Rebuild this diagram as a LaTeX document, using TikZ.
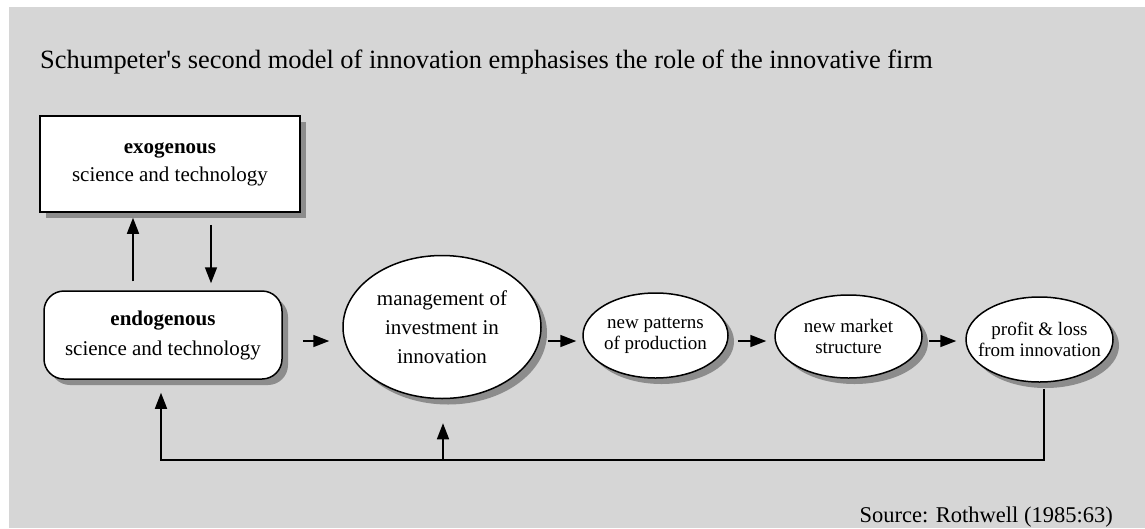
\documentclass[tikz,border=0pt]{standalone}
\usepackage{fontspec}
\setmainfont{Liberation Serif}[Ligatures=TeXOff]
\usetikzlibrary{arrows.meta,shapes.geometric,shadows}
\definecolor{bgGray}{gray}{0.84}
\definecolor{shadeGray}{gray}{0.55}
\begin{document}
\begin{tikzpicture}[x=1pt,y=-1pt,
  castshadow/.style={drop shadow={shadow xshift=6pt,shadow yshift=-6pt,fill=shadeGray,opacity=1}},
  outline/.style={draw=black,line width=1.5pt,fill=white,castshadow,align=center},
  boxtext/.style={font=\fontsize{21}{28}\selectfont},
  bigoval/.style={outline,ellipse,inner sep=0pt,minimum width=198pt,minimum height=143pt,
    font=\fontsize{21}{29}\selectfont},
  smalloval/.style={outline,ellipse,inner xsep=-12pt,inner ysep=0pt,
    minimum width=146pt,minimum height=85pt,font=\fontsize{19}{20.5}\selectfont},
  arr/.style={line width=1.6pt,-{Triangle[length=16pt,width=12pt]}}
]
\useasboundingbox (0,0) rectangle (1145,528);
% page and shaded panel
\fill[white] (0,0) rectangle (1145,528);
\fill[bgGray] (9,7) rectangle (1145,528);

% heading and source line
\node[anchor=base west,inner sep=0pt,font=\fontsize{26.4}{30}\selectfont] (title) at (40,68)
  {Schumpeter's second model of innovation emphasises the role of the innovative firm};
\node[anchor=base east,inner sep=0pt,font=\fontsize{22.5}{26}\selectfont] (source) at (1113,522)
  {Source: Rothwell (1985:63)};

% science and technology boxes
\node[outline,boxtext,rectangle,minimum width=260pt,minimum height=96pt,inner sep=0pt] (exo) at (170,164)
  {\textbf{exogenous}\\science and technology};
\node[outline,rectangle,rounded corners=20pt,minimum width=238pt,minimum height=88pt,inner sep=0pt,
  font=\fontsize{21}{30}\selectfont] (endo) at (163,335)
  {\textbf{endogenous}\\science and technology};

% chain of ovals
\node[bigoval] (mgmt) at (442,327) {management of\\investment in\\innovation};
\node[smalloval,minimum width=145pt] (patterns) at (655.5,335.5) {new patterns\\of production};
\node[smalloval,minimum width=147pt,minimum height=83pt] (market) at (848.5,336.5) {new market\\structure};
\node[smalloval,minimum width=147pt] (profit) at (1039.5,339.5) {profit \& loss\\from innovation};

% reference positions for connectors
\coordinate (row) at (0,341);
\coordinate (upx) at (133,0);
\coordinate (dnx) at (211,0);
\coordinate (fbR) at (1044,460);
\coordinate (fbL) at (161,460);
\coordinate (fbM) at (443,460);

% links between the two boxes
\draw[arr,shorten <=9pt,shorten >=5pt] (endo.north -| upx) -- (exo.south -| upx);
\draw[arr,shorten <=12pt,shorten >=7pt] (exo.south -| dnx) -- (endo.north -| dnx);

% main flow
\draw[arr,shorten <=20pt,shorten >=13pt] (endo.east |- row) -- (mgmt.west |- row);
\draw[arr,shorten <=6pt,shorten >=6pt] (mgmt.east |- row) -- (patterns.west |- row);
\draw[arr,shorten <=9pt,shorten >=8pt] (patterns.east |- row) -- (market.west |- row);
\draw[arr,shorten <=6pt,shorten >=9pt] (market.east |- row) -- (profit.west |- row);

% feedback loop
\draw[arr,shorten <=6pt,shorten >=13pt] (profit.south -| fbR) -- (fbR) -- (fbL) -- (endo.south -| fbL);
\draw[arr,shorten >=24pt] (fbM) -- (mgmt.south -| fbM);
\end{tikzpicture}
\end{document}
